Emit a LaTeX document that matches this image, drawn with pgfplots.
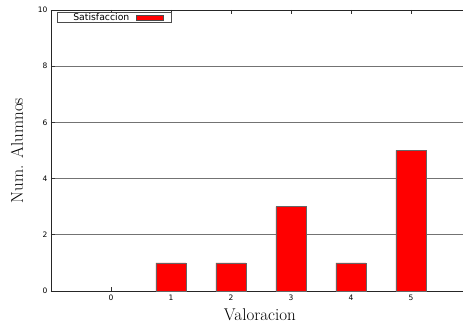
\documentclass[border=0pt]{standalone}
\usepackage{pgfplots}
\pgfplotsset{compat=1.18}
\usepackage{fontspec}
\newfontfamily\dejavu{DejaVu Sans}
\begin{document}
\begin{tikzpicture}
\begin{axis}[
  scale only axis, width=412pt, height=281pt,
  at={(0,0)}, anchor=south west,
  xmin=-1, xmax=5.8667, ymin=0, ymax=10,
  axis x line=box, axis y line=left,
  x axis line style={-, black!85, line width=0.8pt},
  y axis line style={-, black!85, line width=0.8pt},
  xtick={0,1,2,3,4,5}, ytick={0,2,4,6,8,10},
  ymajorgrids, grid style={gray!90!black, line width=0.6pt},
  tick align=inside, major tick length=4pt,
  tick style={black!80, line width=0.6pt},
  /pgf/number format/assume math mode=true,
  tick label style={font=\dejavu\fontsize{7.5}{9}\selectfont},
  xlabel={Valoracion}, ylabel={Num. Alumnos},
  label style={font=\fontsize{17}{20}\selectfont},
  xlabel style={at={(axis description cs:0.507,-0.085)}, anchor=center},
  ylabel style={at={(axis description cs:-0.0825,0.5)}, anchor=center},
  legend plot pos=right,
  legend style={at={(axis description cs:0,1)}, anchor=north west,
    xshift=6pt, yshift=-2.5pt, draw=black!70, line width=0.6pt,
    inner xsep=0pt, inner ysep=0pt, column sep=0pt,
    font=\dejavu\fontsize{9.3}{9.5}\selectfont,
    nodes={inner xsep=0pt, inner ysep=0.3pt}},
  legend image code/.code={\draw[fill=red,draw=black!70,line width=0.5pt] (0pt,-2.4pt) rectangle (27pt,2.4pt); \path (34pt,0pt);},
]
\addplot[ybar, bar width=30pt, fill=red, draw=black!60, line width=0.7pt]
  coordinates {(1,1) (2,1) (3,3) (4,1) (5,5)};
\addlegendentry{\kern16pt Satisfaccion\kern7pt}
\end{axis}
\pgfresetboundingbox
\path[use as bounding box] (-51pt,-33pt) rectangle (412pt,291pt);
\end{tikzpicture}
\end{document}
